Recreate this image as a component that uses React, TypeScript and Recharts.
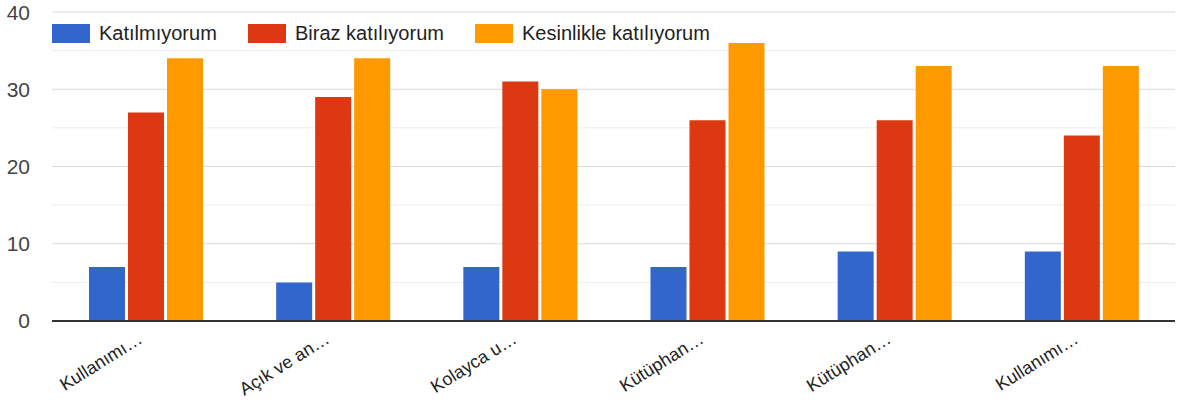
import React from "react";
import { Bar, BarChart, CartesianGrid, XAxis, YAxis } from "recharts";

const categories = ["Kullanımı…", "Açık ve an…", "Kolayca u…", "Kütüphan…", "Kütüphan…", "Kullanımı…"];
const katilmiyorum = [7, 5, 7, 7, 9, 9];
const biraz = [27, 29, 31, 26, 26, 24];
const kesinlikle = [34, 34, 30, 36, 33, 33];
const yTicks = [0, 10, 20, 30, 40];
const minorTicks = [5, 15, 25, 35];

const series = [
  { key: "katilmiyorum", name: "Katılmıyorum", color: "#3366cc" },
  { key: "biraz", name: "Biraz katılıyorum", color: "#dc3912" },
  { key: "kesinlikle", name: "Kesinlikle katılıyorum", color: "#ff9900" },
];

const data = categories.map((name, i) => ({
  name,
  katilmiyorum: katilmiyorum[i],
  biraz: biraz[i],
  kesinlikle: kesinlikle[i],
}));

const font = "Arial, 'Liberation Sans', sans-serif";

function XTick({ x, y, payload }: any) {
  return (
    <g transform={`translate(${x - 2},${y + 13})`}>
      <text
        textAnchor="end"
        transform="rotate(-32)"
        fontSize={18}
        fill="#222"
        fontFamily={font}
      >
        {payload.value}
      </text>
    </g>
  );
}

function LegendOverlay() {
  const lefts = [52, 248, 475];
  return (
    <div
      style={{
        position: "absolute",
        left: 0,
        top: 24,
        width: 1182,
        height: 20,
        fontFamily: font,
        fontSize: 20,
        color: "#222",
      }}
    >
      {series.map((s, i) => (
        <div
          key={s.key}
          style={{ position: "absolute", left: lefts[i], top: 0, display: "flex", alignItems: "center" }}
        >
          <span style={{ width: 38, height: 19, background: s.color, display: "inline-block" }} />
          <span style={{ marginLeft: 9, lineHeight: "19px" }}>{s.name}</span>
        </div>
      ))}
    </div>
  );
}

export default function App() {
  return (
    <div style={{ position: "fixed", left: 0, top: 0, width: 1182, height: 403, background: "#fff" }}>
      <BarChart
        width={1182}
        height={403}
        data={data}
        margin={{ top: 12, right: 7, bottom: 0, left: 0 }}
        barSize={36}
        barGap={3}
      >
        <CartesianGrid vertical={false} stroke="#ececec" horizontalValues={minorTicks} />
        <CartesianGrid vertical={false} stroke="#d9d9d9" horizontalValues={yTicks} />
        <XAxis
          dataKey="name"
          tick={<XTick />}
          tickLine={false}
          axisLine={{ stroke: "#333", strokeWidth: 2 }}
          interval={0}
          height={82}
        />
        <YAxis
          domain={[0, 40]}
          ticks={yTicks}
          width={52}
          tickLine={false}
          axisLine={false}
          tick={{ fontSize: 21, fill: "#444", fontFamily: font }}
          tickMargin={16}
        />
        {series.map((s) => (
          <Bar key={s.key} dataKey={s.key} name={s.name} fill={s.color} isAnimationActive={false} />
        ))}
      </BarChart>
      <LegendOverlay />
    </div>
  );
}
